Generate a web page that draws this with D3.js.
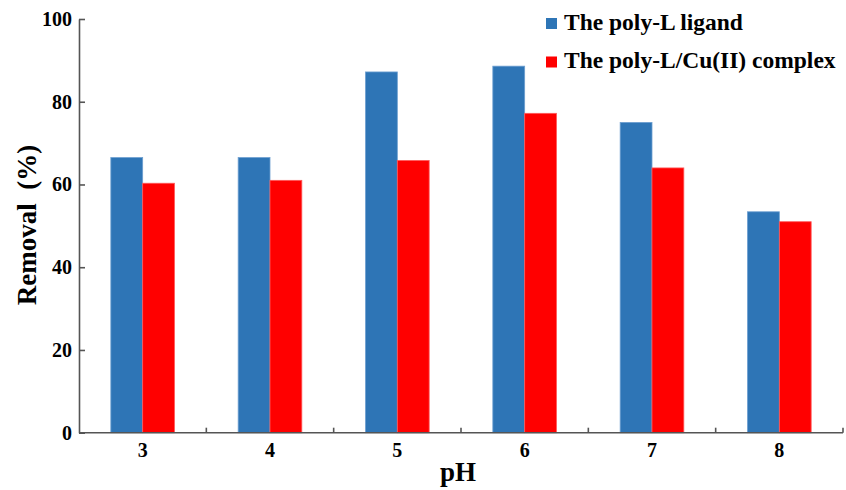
<!DOCTYPE html>
<html lang="en">
<head>
    <meta charset="UTF-8">
    <title>Removal vs pH</title>
    <script src="https://d3js.org/d3.v7.min.js"></script>
    <style>
        body { margin: 0; background: #fff; }
        svg text { font-family: "Liberation Serif", "Times New Roman", serif; font-weight: bold; fill: #000; }
        .axis path, .axis line { stroke: #555; stroke-width: 1.6px; }
    </style>
</head>
<body>
<div id="chart"></div>
<script>
    // data
    var categories = ["3", "4", "5", "6", "7", "8"];
    var ligand = [66.5, 66.5, 87.2, 88.6, 75.0, 53.4];
    var complex = [60.3, 61.0, 65.8, 77.2, 64.0, 51.0];
    var seriesNames = ["The poly-L ligand", "The poly-L/Cu(II) complex"];
    var colors = ["#2E75B6", "#FF0000"];
    var yTicks = [0, 20, 40, 60, 80, 100];

    var width = 846, height = 490;
    var svg = d3.select("#chart").append("svg")
        .attr("width", width)
        .attr("height", height);

    var x = d3.scaleBand().domain(categories).range([79, 843]);
    var y = d3.scaleLinear().domain([0, 100]).range([432.7, 19]);
    var barW = x.bandwidth() / 4;

    var series = [ligand, complex];
    series.forEach(function(vals, si) {
        svg.append("g").selectAll("rect")
            .data(vals)
            .enter().append("rect")
            .attr("x", function(d, i) { return x(categories[i]) + x.bandwidth() / 2 - barW + si * barW; })
            .attr("y", function(d) { return y(d); })
            .attr("width", barW)
            .attr("height", function(d) { return y(0) - y(d); })
            .attr("fill", colors[si])
            .attr("stroke", si === 0 ? "#6d9fd0" : "#ff5a5a")
            .attr("stroke-width", 0.8);
    });

    // y axis, ticks pointing inward
    var yAxis = svg.append("g").attr("class", "axis")
        .attr("transform", "translate(79,0)")
        .call(d3.axisRight(y).tickValues(yTicks).tickSize(6).tickSizeOuter(0));
    yAxis.selectAll("text")
        .attr("x", -7).attr("text-anchor", "end")
        .style("font-size", "20px");

    // x axis with ticks at group boundaries pointing up
    var xb = svg.append("g").attr("class", "axis")
        .attr("transform", "translate(0," + y(0) + ")");
    xb.append("line").attr("x1", 79).attr("x2", 843).attr("y1", 0).attr("y2", 0);
    xb.selectAll(".tk").data(categories.slice(1).concat(["end"]))
        .enter().append("line")
        .attr("x1", function(d, i) { return 79 + (i + 1) * x.step(); })
        .attr("x2", function(d, i) { return 79 + (i + 1) * x.step(); })
        .attr("y1", 0).attr("y2", -5);
    xb.selectAll("text").data(categories)
        .enter().append("text")
        .attr("x", function(d) { return x(d) + x.bandwidth() / 2; })
        .attr("y", 24)
        .attr("text-anchor", "middle")
        .style("font-size", "20px")
        .text(function(d) { return d; });

    // axis titles
    svg.append("text")
        .attr("transform", "translate(36,225) rotate(-90)")
        .attr("text-anchor", "middle")
        .style("font-size", "27px")
        .attr("xml:space", "preserve")
        .text("Removal  (%)");
    svg.append("text")
        .attr("x", 458).attr("y", 481)
        .attr("text-anchor", "middle")
        .style("font-size", "27px")
        .text("pH");

    // legend
    var legend = svg.append("g");
    seriesNames.forEach(function(name, i) {
        legend.append("rect")
            .attr("x", 546).attr("y", 18 + i * 38.5)
            .attr("width", 11).attr("height", 11)
            .attr("fill", colors[i]);
        legend.append("text")
            .attr("x", 564).attr("y", 30 + i * 38)
            .style("font-size", "23.5px")
            .text(name);
    });
</script>
</body>
</html>
